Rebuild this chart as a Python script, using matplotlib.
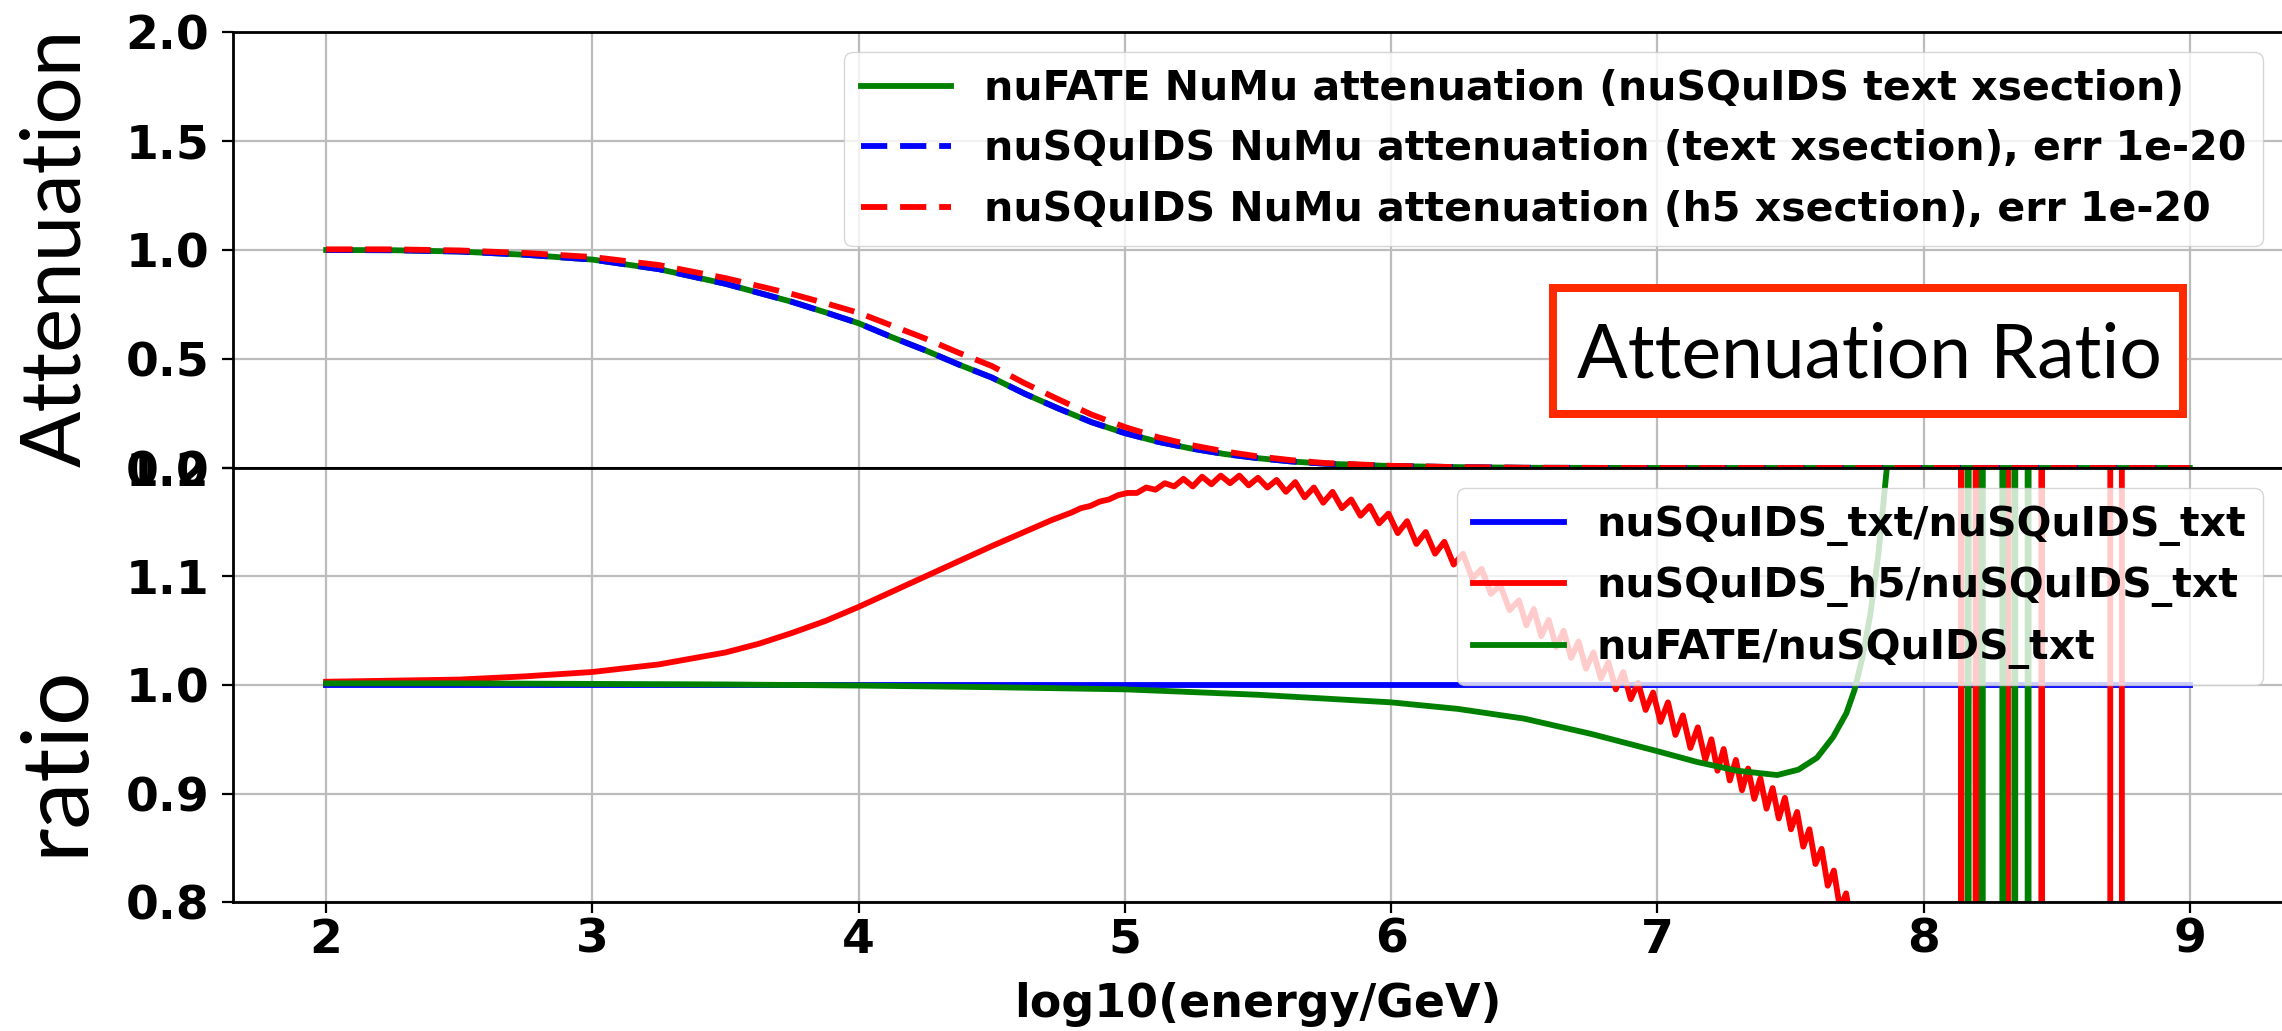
import numpy as np
import matplotlib
matplotlib.use("Agg")
import matplotlib.pyplot as plt
from matplotlib.patches import Rectangle

# ---------------- data ----------------
# attenuation vs log10(E/GeV)
atten_x = [2.0, 2.25, 2.5, 2.75, 3.0, 3.25, 3.5, 3.75, 3.875, 4.0, 4.125, 4.25, 4.375,
           4.5, 4.625, 4.75, 4.875, 5.0, 5.125, 5.25, 5.375, 5.5, 5.625, 5.75, 6.0,
           6.25, 6.5, 7.0, 7.5, 8.0, 8.5, 9.0]
atten_nufate = [1.000, 0.999, 0.993, 0.978, 0.956, 0.912, 0.845, 0.762, 0.714, 0.664,
                0.600, 0.540, 0.475, 0.415, 0.340, 0.273, 0.210, 0.160, 0.120, 0.089,
                0.064, 0.045, 0.030, 0.020, 0.009, 0.004, 0.001, 0.0, 0.0, 0.0, 0.0,
                0.0]
atten_txt = [1.000, 0.999, 0.993, 0.978, 0.956, 0.912, 0.845, 0.762, 0.714, 0.664,
             0.600, 0.540, 0.475, 0.415, 0.340, 0.273, 0.210, 0.160, 0.120, 0.089,
             0.064, 0.045, 0.030, 0.020, 0.009, 0.004, 0.001, 0.0, 0.0, 0.0, 0.0,
             0.0]
atten_h5 = [1.003, 1.003, 0.998, 0.986, 0.968, 0.931, 0.871, 0.798, 0.756, 0.712,
            0.653, 0.594, 0.529, 0.468, 0.388, 0.315, 0.245, 0.188, 0.141, 0.105,
            0.076, 0.053, 0.036, 0.023, 0.010, 0.004, 0.001, 0.0, 0.0, 0.0, 0.0,
            0.0]

# ratio nuSQuIDS_txt / nuSQuIDS_txt
ratio_txt_x = [2.0, 9.0]
ratio_txt_y = [1.0, 1.0]

# ratio nuSQuIDS_h5 / nuSQuIDS_txt : smooth low-energy part
ratio_h5_x_low = [2.0, 2.25, 2.5, 2.75, 3.0, 3.25, 3.5, 3.625, 3.75, 3.875, 4.0,
                  4.125, 4.25, 4.375, 4.5, 4.65, 4.725]
ratio_h5_y_low = [1.003, 1.004, 1.005, 1.008, 1.012, 1.019, 1.030, 1.038, 1.048,
                  1.059, 1.072, 1.086, 1.100, 1.114, 1.128, 1.144, 1.152]
# oscillating part (peaks and troughs)
ratio_h5_x_osc = [
    4.800, 4.835, 4.870, 4.905, 4.940, 4.975, 5.010, 5.045, 5.080, 5.115, 5.150, 5.185,
    5.220, 5.255, 5.290, 5.325, 5.360, 5.395, 5.430, 5.465, 5.500, 5.535, 5.570, 5.605,
    5.640, 5.675, 5.710, 5.745, 5.780, 5.815, 5.850, 5.885, 5.920, 5.955, 5.990, 6.025,
    6.060, 6.095, 6.130, 6.165, 6.200, 6.235, 6.270, 6.305, 6.340, 6.375, 6.410, 6.445,
    6.480, 6.508, 6.536, 6.564, 6.592, 6.620, 6.648, 6.676, 6.704, 6.732, 6.760, 6.788,
    6.816, 6.844, 6.872, 6.900, 6.928, 6.956, 6.984, 7.012, 7.040, 7.068, 7.096, 7.124,
    7.152, 7.180, 7.203, 7.226, 7.249, 7.272, 7.295, 7.318, 7.341, 7.364, 7.387, 7.410,
    7.433, 7.456, 7.479, 7.502, 7.525, 7.548, 7.571, 7.594, 7.617, 7.640, 7.663, 7.686,
    7.709, 7.732]
ratio_h5_y_osc = [
    1.159, 1.163, 1.165, 1.169, 1.171, 1.175, 1.177, 1.177, 1.182, 1.180, 1.186, 1.183,
    1.190, 1.183, 1.192, 1.185, 1.193, 1.186, 1.193, 1.184, 1.191, 1.182, 1.189, 1.178,
    1.187, 1.173, 1.182, 1.168, 1.178, 1.163, 1.171, 1.156, 1.165, 1.149, 1.158, 1.140,
    1.151, 1.130, 1.141, 1.121, 1.132, 1.111, 1.121, 1.098, 1.107, 1.084, 1.092, 1.069,
    1.078, 1.055, 1.070, 1.045, 1.060, 1.035, 1.050, 1.025, 1.040, 1.015, 1.030, 1.006,
    1.021, 0.996, 1.012, 0.987, 1.002, 0.977, 0.993, 0.966, 0.984, 0.954, 0.972, 0.942,
    0.961, 0.931, 0.950, 0.921, 0.941, 0.912, 0.931, 0.903, 0.923, 0.895, 0.914, 0.886,
    0.905, 0.877, 0.896, 0.867, 0.883, 0.851, 0.867, 0.835, 0.849, 0.815, 0.829, 0.794,
    0.808, 0.773]
# numerically unstable high-energy tail
ratio_h5_x_tail = [7.76, 7.80, 8.139, 8.141, 8.145, 8.194, 8.196, 8.200, 8.313, 8.315,
                   8.319, 8.441, 8.443, 8.447, 8.700, 8.702, 8.744, 8.746, 9.0]
ratio_h5_y_tail = [0.70, 0.45, -5.0, 5.0, -5.0, -5.0, 5.0, -5.0, -5.0, 5.0,
                   -5.0, -5.0, 5.0, -5.0, -5.0, 5.0, 5.0, -5.0, -5.0]

# ratio nuFATE / nuSQuIDS_txt
ratio_fate_x = [2.0, 2.5, 3.0, 3.5, 4.0, 4.5, 5.0, 5.5, 6.0, 6.25, 6.5, 6.75, 7.0,
                7.15, 7.3, 7.45, 7.53, 7.6, 7.66, 7.71, 7.74, 7.77, 7.80, 7.83, 7.86,
                7.89, 7.93, 8.0,
                8.165, 8.167, 8.171, 8.218, 8.220, 8.224, 8.295, 8.297, 8.301,
                8.340, 8.342, 8.346, 8.390, 8.392, 8.396, 9.0]
ratio_fate_y = [1.0015, 1.0015, 1.001, 1.0005, 0.9995, 0.998, 0.996, 0.991, 0.984,
                0.978, 0.969, 0.955, 0.939, 0.929, 0.921, 0.917, 0.922, 0.933, 0.952,
                0.974, 0.995, 1.025, 1.065, 1.120, 1.195, 1.28, 1.45, 1.8,
                5.0, -5.0, 5.0, 5.0, -5.0, 5.0, 5.0, -5.0, 5.0,
                5.0, -5.0, 5.0, 5.0, -5.0, 5.0, 5.0]

xticks = [2, 3, 4, 5, 6, 7, 8, 9]
top_yticks = [0.0, 0.5, 1.0, 1.5, 2.0]
bot_yticks = [0.8, 0.9, 1.0, 1.1, 1.2]

# ---------------- figure ----------------
W, H = 2282, 1031
fig = plt.figure(figsize=(W / 100, H / 100), dpi=100)
fig.patch.set_facecolor("white")


def fx(px):
    return px / W


def fy(py):
    return 1 - py / H


LEFT, RIGHT = 233, 2283
ax_top = fig.add_axes([fx(LEFT), fy(468), (RIGHT - LEFT) / W, (468 - 32) / H])
ax_bot = fig.add_axes([fx(LEFT), fy(902), (RIGHT - LEFT) / W, (902 - 468) / H],
                      sharex=ax_top)

LW = 4.2
TICK_FS = 34
LEG_FS = 29.5
grid_kw = dict(color="#bcbcbc", linewidth=1.6)

# top panel: attenuation
ax_top.plot(atten_x, atten_nufate, color="green", lw=LW,
            label="nuFATE NuMu attenuation (nuSQuIDS text xsection)")
ax_top.plot(atten_x, atten_txt, color="blue", lw=LW, dashes=(4.5, 2.2),
            label="nuSQuIDS NuMu attenuation (text xsection), err 1e-20")
ax_top.plot(atten_x, atten_h5, color="red", lw=LW, dashes=(4.5, 2.2),
            label="nuSQuIDS NuMu attenuation (h5 xsection), err 1e-20")
ax_top.set_ylim(0.0, 2.0)
ax_top.set_yticks(top_yticks)
ax_top.set_yticklabels([f"{v:.1f}" for v in top_yticks])

# bottom panel: ratios
h5_x = ratio_h5_x_low + ratio_h5_x_osc + ratio_h5_x_tail
h5_y = ratio_h5_y_low + ratio_h5_y_osc + ratio_h5_y_tail
ax_bot.plot(ratio_txt_x, ratio_txt_y, color="blue", lw=LW,
            label="nuSQuIDS_txt/nuSQuIDS_txt")
ax_bot.plot(h5_x, h5_y, color="red", lw=LW, label="nuSQuIDS_h5/nuSQuIDS_txt")
ax_bot.plot(ratio_fate_x, ratio_fate_y, color="green", lw=LW,
            label="nuFATE/nuSQuIDS_txt")
ax_bot.set_ylim(0.8, 1.2)
ax_bot.set_yticks(bot_yticks)
ax_bot.set_yticklabels([f"{v:.1f}" for v in bot_yticks])

ax_bot.set_xlim(1.65, 9.35)
ax_bot.set_xticks(xticks)
ax_bot.set_xticklabels([str(v) for v in xticks])

for ax in (ax_top, ax_bot):
    ax.grid(True, **grid_kw)
    ax.set_axisbelow(True)
    for s in ax.spines.values():
        s.set_linewidth(2.0)
        s.set_color("black")
    ax.tick_params(axis="both", which="major", direction="out", length=8,
                   width=1.6, labelsize=TICK_FS, top=False, right=False)
    ax.tick_params(axis="y", pad=9)
    for lab in ax.get_yticklabels() + ax.get_xticklabels():
        lab.set_fontweight("bold")

ax_top.tick_params(axis="x", length=0, labelbottom=False)

ax_bot.set_xlabel("log10(energy/GeV)", fontsize=33, fontweight="bold", labelpad=14)

leg_kw = dict(loc="upper right", prop={"size": LEG_FS, "weight": "bold"},
              handlelength=2.2, framealpha=0.8)
ax_top.legend(**leg_kw)
ax_bot.legend(**leg_kw)

# hand-written style axis titles and panel tag
hand_font = "Lato"
fig.text(fx(80), fy(248), "Attenuation", rotation=90, rotation_mode="anchor",
         ha="center", va="baseline", fontsize=60, family=hand_font)
fig.text(fx(82), fy(760), "ratio", rotation=90, rotation_mode="anchor",
         ha="center", va="baseline", fontsize=68, family=hand_font)

bw = 8  # border width in pixels
box = Rectangle((fx(1549 + bw / 2), fy(418 - bw / 2)),
                (2187 - 1549 - bw) / W, (418 - 284 - bw) / H,
                transform=fig.transFigure, facecolor="white",
                edgecolor="#ff2a00", linewidth=bw * 0.72, zorder=10)
fig.patches.append(box)
fig.text(fx(1869), fy(378), "Attenuation Ratio", ha="center", va="baseline",
         fontsize=54, family=hand_font, zorder=11)

fig.savefig("out.png", dpi=100, facecolor="white")
